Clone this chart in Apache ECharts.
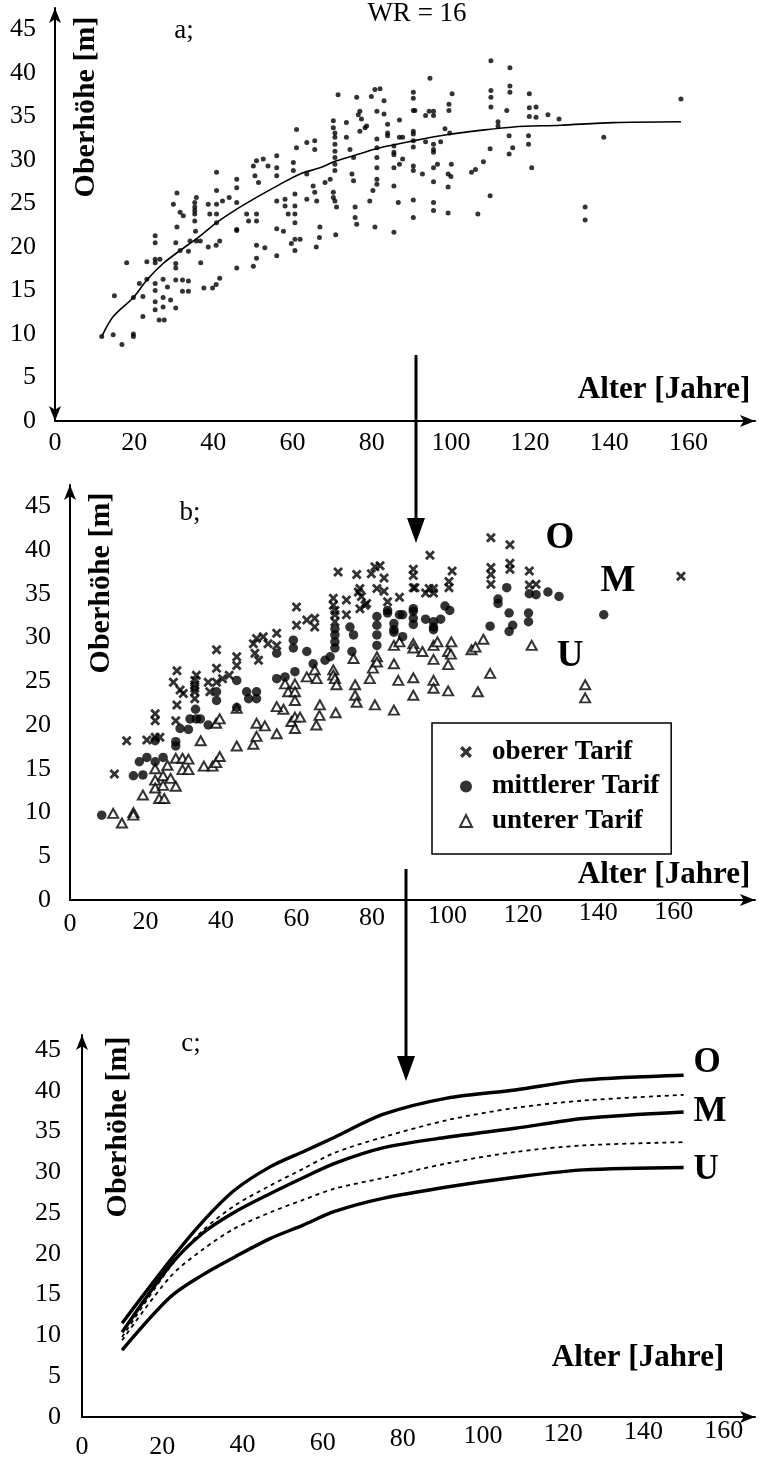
<!DOCTYPE html>
<html><head><meta charset="utf-8">
<script src="https://cdn.jsdelivr.net/npm/echarts@6/dist/echarts.min.js"></script>
<style>html,body{margin:0;padding:0;background:#fff}#c{width:760px;height:1462px}</style>
</head><body><div id="c"></div>
<script>
const heightTicks = [0,5,10,15,20,25,30,35,40,45];
const ageTicks = [0,20,40,60,80,100,120,140,160];

// Panel b classes (same stands as panel a, classified by tariff); [age, height]
const oberTarif = [[15.0,14.4],[18.1,18.2],[23.2,18.3],[25.3,21.3],[25.3,20.5],[25.3,18.6],[26.5,18.6],[30.5,20.5],
[30.8,26.2],[29.9,24.9],[31.6,24.0],[32.4,23.6],[30.8,22.3],[35.7,25.7],[35.3,25.1],[35.3,24.6],[35.3,24.2],[35.3,23.8],[35.3,23.0],[38.7,24.9],[39.1,23.8],[40.8,28.6],[40.8,26.5],[40.8,24.9],[42.3,25.3],[44.0,25.7],[45.9,27.8],[45.9,26.8],[50.1,29.3],[50.5,28.2],[50.9,29.9],[51.4,27.4],[52.6,30.1],[53.8,29.3],[56.0,30.5],[56.0,29.1],[61.0,33.5],[61.0,31.4],[63.6,32.0],[65.6,32.2],[65.6,31.2],[70.3,34.5],[70.3,33.7],[70.7,33.1],[70.7,32.6],[70.7,31.8],[71.5,37.5],[73.6,34.3],[73.6,32.6],[76.2,37.2],[76.6,35.2],[77.0,35.6],[77.4,34.7],[77.0,33.3],[78.3,33.7],[78.7,33.9],[79.9,37.3],[80.8,38.1],[81.3,35.6],
[82.1,38.2],[83.1,36.8],[83.1,35.3],[84.0,34.1],[87.0,34.6],[90.5,37.8],[90.5,37.1],[90.5,35.7],[90.9,35.7],[93.6,35.1],[94.5,35.6],[95.6,35.6],[95.6,35.1],[94.7,39.4],[99.5,35.7],[99.5,36.4],[100.3,37.6],[110.1,41.4],[110.1,38.0],[110.1,37.2],[110.1,36.1],[114.9,40.6],[114.9,38.5],[114.9,37.8],[119.8,37.6],[119.8,36.0],[121.5,36.1],[158.1,37.0]];

const mittlererTarif = [[11.8,9.7],[19.8,14.2],[21.3,15.8],[22.2,14.3],[23.2,16.3],[25.3,18.2],[25.3,15.8],[27.3,16.3],[30.5,18.1],[30.5,17.6],[31.6,19.6],[33.7,19.5],[34.1,20.7],[35.7,20.7],[36.7,20.7],[35.5,21.8],[38.7,20.0],
[40.8,23.8],[40.8,22.8],[45.9,25.1],[45.9,22.0],[48.4,23.8],[48.9,23.0],[50.9,23.8],[50.9,23.0],[56.0,28.2],[56.0,25.3],[58.1,25.5],[60.6,26.1],[60.2,29.7],[60.2,28.8],[63.6,28.4],[65.2,27.0],[68.2,27.4],[69.5,27.8],[70.7,31.0],[70.7,30.3],[70.7,29.5],[70.7,28.8],[74.5,31.2],[75.0,28.4],[75.4,30.3],[81.3,32.4],[81.3,31.4],[81.3,30.3],[81.3,29.1],
[84.0,33.1],[84.0,32.8],[85.6,31.6],[85.6,30.9],[85.6,30.6],[87.0,32.6],[87.8,32.6],[87.8,30.1],[90.5,33.3],[90.5,33.0],[90.5,32.2],[90.5,31.5],[93.6,32.1],[95.6,31.8],[95.6,31.2],[95.6,30.9],[97.4,32.1],[98.5,33.6],[99.7,33.1],[109.9,31.3],[111.9,34.4],[111.9,33.9],[114.1,35.7],[114.7,32.8],[114.7,30.7],[115.6,31.4],[119.8,35.0],[121.5,34.9],[119.6,32.8],[119.6,31.8],[124.5,35.2],[127.3,34.7],[138.6,32.6]];

const untererTarif = [[14.7,9.9],[16.9,8.8],[19.8,10.0],[19.8,9.7],[22.2,12.0],[25.3,15.0],[25.3,13.7],[25.3,12.8],[26.3,11.6],[27.6,11.6],[27.3,14.2],[27.3,13.1],[28.4,15.4],[29.2,13.9],[30.5,16.2],[30.5,13.0],[32.2,16.2],[32.2,14.9],[33.7,14.9],[33.7,16.1],[36.8,18.2],[37.6,15.3],[39.8,15.3],[40.7,15.7],[41.6,16.4],[40.7,20.2],[41.6,20.7],[45.9,21.9],[45.9,17.6],[50.1,17.8],[50.9,20.2],[50.9,18.7],[53.0,19.9],[56.0,19.0],[57.7,21.8],[59.7,20.4],[60.6,19.6],[60.6,20.9],[61.9,20.9],[66.0,20.0],[66.8,21.1],[70.9,21.4],
[56.0,22.1],[58.1,24.7],[58.9,23.8],[60.6,24.7],[60.6,23.8],[60.6,22.8],[63.6,25.5],[65.6,26.3],[66.1,25.3],[66.9,22.3],[70.3,26.3],[70.3,25.7],[70.7,25.3],[71.1,24.6],[75.4,27.6],[75.8,24.6],[75.8,23.4],[76.2,22.6],[79.5,25.3],[80.3,26.5],[81.3,27.8],[81.3,27.2],[80.8,22.3],
[85.6,29.1],[85.6,27.0],[85.6,21.7],[86.7,25.1],[87.0,29.5],[90.5,29.3],[90.5,28.8],[90.5,25.4],[90.5,23.4],[92.8,28.4],[95.6,29.1],[95.6,27.5],[95.6,25.1],[95.6,24.2],[96.6,29.5],[99.3,26.9],[99.3,28.4],[100.0,28.1],[99.3,23.9],[100.1,29.5],[105.2,28.6],[106.2,28.9],[106.8,23.8],[108.2,29.8],[109.9,25.9],[120.4,29.1],[133.9,24.6],[133.9,23.1]];

// Panel a fitted curve
const fitCurveA = [[11.8,9.7],[14.7,12.0],[19.8,14.2],[23.2,16.2],[27.3,18.1],[31.6,19.6],[36.2,21.1],[40.8,22.8],[45.0,24.1],[50.9,25.7],[56.0,27.0],[61.9,28.4],[66.9,29.1],[71.1,29.9],[75.4,30.5],[82.1,31.4],[90.5,32.2],[98.9,32.9],[107.4,33.4],[115.8,33.8],[127.6,34.0],[141.0,34.3],[158.1,34.4]];

// Panel c curves
const curveAges = [10,22,30,38,47,55,63,75,91,108,125,150];
const curveO  = [11.5,19.2,23.9,27.8,30.7,32.5,34.3,37.1,39.1,40.1,41.3,41.9];
const curveOM = [9.8,18.4,22.8,25.9,28.4,30.4,32.4,34.3,36.4,37.9,38.8,39.5];
const curveM  = [10.4,18.6,22.5,25.1,27.4,29.3,31.1,33.0,34.3,35.4,36.6,37.4];
const curveMU = [9.4,17.2,20.5,23.1,25.1,26.6,28.0,29.3,31.1,32.5,33.3,33.7];
const curveU  = [8.2,14.7,17.4,19.6,21.9,23.5,25.2,26.8,28.2,29.4,30.3,30.6];

const FONT = '"Liberation Serif","Times New Roman",serif';
const CROSS = 'path://M0,2L2,0L5,3L8,0L10,2L7,5L10,8L8,10L5,7L2,10L0,8L3,5Z';
const chart = echarts.init(document.getElementById('c'));

function hFmt(v){ return heightTicks.indexOf(v) >= 0 ? String(v) : ''; }
function aFmt(v){ return ageTicks.indexOf(v) >= 0 ? String(v) : ''; }
function axLine(sym){ return {show:true, symbol: sym || ['none','arrow'], symbolSize:[9,15], lineStyle:{color:'#000', width:2}}; }
const lbl = {color:'#000', fontSize:26, fontFamily:FONT};

function staggerRich(heights){
  const r = {};
  ageTicks.forEach((t,i)=>{ r['t'+t] = {lineHeight: heights[i], fontSize:26, fontFamily:FONT, color:'#000'}; });
  return r;
}
function staggerFmt(v){ return ageTicks.indexOf(v) >= 0 ? '{t'+v+'|'+v+'}' : ''; }

const pair = (arr) => curveAges.map((a,i)=>[a, arr[i]]);

function txt(text, x, y, size, bold, extra){
  return Object.assign({type:'text', x:x, y:y, style:{text:text, fill:'#000', fontSize:size, fontWeight: bold?'bold':'normal', fontFamily:FONT, align:'center', verticalAlign:'middle'}}, extra||{});
}

const option = {
  animation:false,
  backgroundColor:'#fff',
  grid:[
    {left:55, top:8, width:700, height:413},
    {left:70, top:485, width:685, height:415},
    {left:82, top:1035, width:673, height:382}
  ],
  xAxis:[
    {gridIndex:0, type:'value', min:0, max:176.8, interval:20, axisLine:axLine(), axisTick:{show:false}, splitLine:{show:false}, axisLabel:Object.assign({formatter:aFmt, margin:9}, lbl)},
    {gridIndex:1, type:'value', min:3.79, max:176.8, show:false, position:'bottom'},
    {gridIndex:1, type:'value', min:0, max:181.5, interval:20, position:'bottom', axisLine:axLine(), axisTick:{show:false}, splitLine:{show:false},
      axisLabel:{formatter:staggerFmt, margin:2, rich:staggerRich([44,41,38,35,32,29,26,23,20])}},
    {gridIndex:2, type:'value', min:0, max:167.8, interval:20, axisLine:axLine(), axisTick:{show:false}, splitLine:{show:false},
      axisLabel:{formatter:staggerFmt, margin:2, rich:staggerRich([56,56,52,48,40,34,30,26,24])}}
  ],
  yAxis:[
    {gridIndex:0, type:'value', min:0, max:47.47, interval:5, axisLine:axLine(['arrow','arrow']), axisTick:{show:false}, splitLine:{show:false}, axisLabel:Object.assign({formatter:hFmt, margin:19}, lbl)},
    {gridIndex:1, type:'value', min:0, max:47.43, interval:5, axisLine:axLine(), axisTick:{show:false}, splitLine:{show:false}, axisLabel:Object.assign({formatter:hFmt, margin:19}, lbl)},
    {gridIndex:2, type:'value', min:0, max:46.84, interval:5, axisLine:axLine(), axisTick:{show:false}, splitLine:{show:false}, axisLabel:Object.assign({formatter:hFmt, margin:21}, lbl)}
  ],
  legend:{
    data:['oberer Tarif','mittlerer Tarif','unterer Tarif'],
    orient:'vertical', left:432, top:723, padding:[14,12,18,27], itemGap:4.5,
    itemWidth:12, itemHeight:12, selectedMode:false,
    borderColor:'#000', borderWidth:1.5, borderRadius:0, backgroundColor:'#fff',
    textStyle:{fontSize:27, fontWeight:'bold', fontFamily:FONT, color:'#000', lineHeight:30, padding:[0,0,0,15]}
  },
  series:[
    {type:'scatter', xAxisIndex:0, yAxisIndex:0, symbol:'circle', symbolSize:5, itemStyle:{color:'#000'},
      data: oberTarif.concat(mittlererTarif, untererTarif)},
    {type:'line', xAxisIndex:0, yAxisIndex:0, data:fitCurveA, smooth:0.3, showSymbol:false, lineStyle:{color:'#000', width:1.6}},
    {name:'unterer Tarif', type:'scatter', xAxisIndex:1, yAxisIndex:1, symbol:'triangle', symbolSize:[10,9],
      itemStyle:{color:'#fff', borderColor:'#000', borderWidth:2}, data:untererTarif},
    {name:'mittlerer Tarif', type:'scatter', xAxisIndex:1, yAxisIndex:1, symbol:'circle', symbolSize:9.5,
      itemStyle:{color:'#000'}, data:mittlererTarif},
    {name:'oberer Tarif', type:'scatter', xAxisIndex:1, yAxisIndex:1, symbol:CROSS, symbolSize:10,
      itemStyle:{color:'#000'}, data:oberTarif},
    {type:'line', xAxisIndex:3, yAxisIndex:2, data:pair(curveO), smooth:0.3, showSymbol:false, lineStyle:{color:'#000', width:3.4},
      endLabel:{show:true, formatter:'O', distance:10, offset:[0,-12], fontSize:35, fontWeight:'bold', fontFamily:FONT, color:'#000'}},
    {type:'line', xAxisIndex:3, yAxisIndex:2, data:pair(curveOM), smooth:0.3, showSymbol:false, lineStyle:{color:'#000', width:1.8, type:[4,4]}},
    {type:'line', xAxisIndex:3, yAxisIndex:2, data:pair(curveM), smooth:0.3, showSymbol:false, lineStyle:{color:'#000', width:3.4},
      endLabel:{show:true, formatter:'M', distance:10, offset:[0,0], fontSize:35, fontWeight:'bold', fontFamily:FONT, color:'#000'}},
    {type:'line', xAxisIndex:3, yAxisIndex:2, data:pair(curveMU), smooth:0.3, showSymbol:false, lineStyle:{color:'#000', width:1.8, type:[4,4]}},
    {type:'line', xAxisIndex:3, yAxisIndex:2, data:pair(curveU), smooth:0.3, showSymbol:false, lineStyle:{color:'#000', width:3.4},
      endLabel:{show:true, formatter:'U', distance:10, offset:[0,3], fontSize:35, fontWeight:'bold', fontFamily:FONT, color:'#000'}}
  ],
  graphic:[
    txt('a;', 184, 31, 27, false),
    txt('WR = 16', 417, 14, 27, false),
    txt('b;', 190, 513, 27, false),
    txt('c;', 191, 1044, 27, false),
    txt('Alter [Jahre]', 664, 390, 31, true),
    txt('Alter [Jahre]', 664, 875, 31, true),
    txt('Alter [Jahre]', 638, 1358, 31, true),
    txt('Oberhöhe [m]', 86, 107, 30, true, {rotation:Math.PI/2}),
    txt('Oberhöhe [m]', 101, 583, 30, true, {rotation:Math.PI/2}),
    txt('Oberhöhe [m]', 118, 1127, 30, true, {rotation:Math.PI/2}),
    txt('O', 560, 538, 37, true),
    txt('M', 618, 581, 37, true),
    txt('U', 570, 656, 37, true),
    {type:'line', shape:{x1:416, y1:355, x2:416, y2:522}, style:{stroke:'#000', lineWidth:3}},
    {type:'polygon', shape:{points:[[407,518],[425,518],[416,543]]}, style:{fill:'#000'}},
    {type:'line', shape:{x1:406, y1:869, x2:406, y2:1060}, style:{stroke:'#000', lineWidth:3}},
    {type:'polygon', shape:{points:[[397,1056],[415,1056],[406,1081]]}, style:{fill:'#000'}}
  ]
};
chart.setOption(option);
</script>
</body></html>
